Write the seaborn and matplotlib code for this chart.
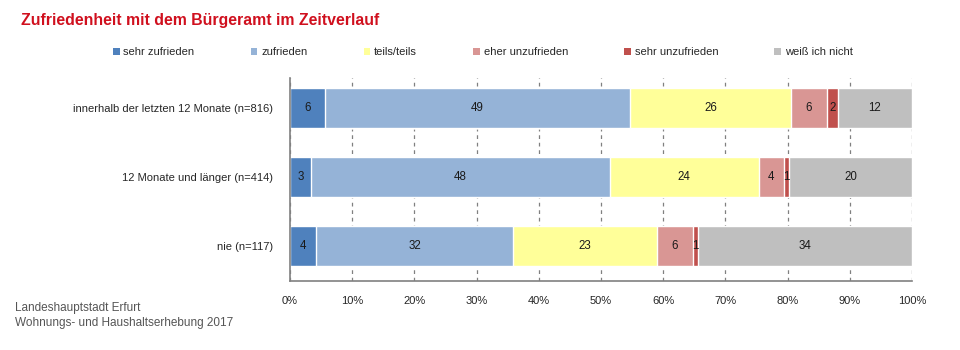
import matplotlib
matplotlib.use("Agg")
import matplotlib.pyplot as plt
import seaborn as sns
import numpy as np
from matplotlib.patches import Patch

# Daten
kategorien = ["innerhalb der letzten 12 Monate (n=816)",
              "12 Monate und länger (n=414)",
              "nie (n=117)"]
antworten = ["sehr zufrieden", "zufrieden", "teils/teils",
             "eher unzufrieden", "sehr unzufrieden", "weiß ich nicht"]
sehr_zufrieden = [5.6, 3.4, 4.2]
zufrieden = [49.1, 48.0, 31.7]
teils_teils = [25.8, 24.0, 23.1]
eher_unzufrieden = [5.8, 4.0, 5.8]
sehr_unzufrieden = [1.8, 0.8, 0.8]
weiss_nicht = [11.9, 19.8, 34.4]
beschriftung = [[6, 3, 4], [49, 48, 32], [26, 24, 23],
                [6, 4, 6], [2, 1, 1], [12, 20, 34]]
farben = ["#4F81BD", "#95B3D7", "#FFFF99", "#D99694", "#C0504D", "#BFBFBF"]

werte = np.array([sehr_zufrieden, zufrieden, teils_teils,
                  eher_unzufrieden, sehr_unzufrieden, weiss_nicht])
kumuliert = werte.cumsum(axis=0)

sns.set_style("white")
plt.rcParams["font.family"] = ["Liberation Sans", "DejaVu Sans"]

fig = plt.figure(figsize=(9.6, 3.5), dpi=100)
ax = fig.add_axes([0.302, 0.197, 0.648, 0.58])

# gestapelte Balken: vom groessten kumulierten Wert zum kleinsten zeichnen
for i in reversed(range(len(antworten))):
    sns.barplot(x=kumuliert[i], y=kategorien, color=farben[i], orient="h",
                width=0.58, saturation=1, ax=ax, zorder=2)

for i in range(len(antworten)):
    for j in range(len(kategorien)):
        mitte = kumuliert[i][j] - werte[i][j] / 2
        ax.text(mitte, j, str(beschriftung[i][j]), ha="center", va="center",
                fontsize=8.3, color="#1a1a1a", zorder=3)

ax.set_xlim(0, 100)
ax.set_ylim(2.51, -0.43)
ax.set_xticks(np.arange(0, 101, 10))
ax.set_xticklabels([f"{v}%" for v in range(0, 101, 10)], fontsize=8)
ax.tick_params(axis="y", labelsize=8, length=0, pad=12)
ax.tick_params(axis="x", length=0, pad=11)
ax.set_xlabel("")
ax.set_ylabel("")
ax.xaxis.grid(True, linestyle=(0, (3, 3)), color="#808080", linewidth=0.9, zorder=0)
ax.set_axisbelow(True)
for s in ["top", "right"]:
    ax.spines[s].set_visible(False)
for s in ["left", "bottom"]:
    ax.spines[s].set_color("#808080")
    ax.spines[s].set_linewidth(1.2)

fig.text(0.022, 1 - 20 / 350, "Zufriedenheit mit dem Bürgeramt im Zeitverlauf",
         fontsize=11.4, fontweight="bold", color="#D0101E", va="center")

handles = [Patch(facecolor=c, edgecolor="none") for c in farben]
fig.legend(handles, antworten, loc="center", bbox_to_anchor=(0.503, 1 - 52 / 350),
           ncol=6, frameon=False, fontsize=8, handlelength=0.6, handleheight=0.6,
           handletextpad=0.35, columnspacing=5.05)

fig.text(0.016, 1 - 308 / 350, "Landeshauptstadt Erfurt", fontsize=8.5,
         color="#555555", va="center")
fig.text(0.016, 1 - 323 / 350, "Wohnungs- und Haushaltserhebung 2017", fontsize=8.5,
         color="#555555", va="center")

fig.savefig("out.png", dpi=100)
